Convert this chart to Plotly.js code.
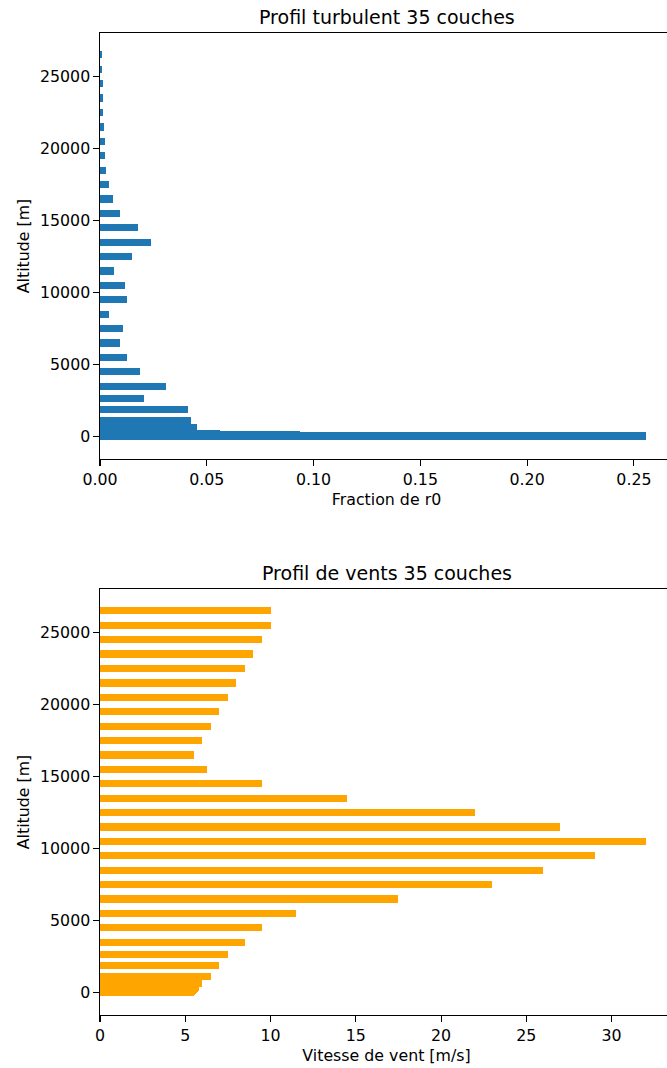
<!DOCTYPE html>
<html>
<head>
<meta charset="utf-8">
<script src="https://cdn.plot.ly/plotly-3.0.1.min.js"></script>
<style>
  html, body { margin: 0; padding: 0; overflow: hidden; background: #ffffff; }
  #chart { width: 700px; height: 1068px; }
</style>
</head>
<body>
<div id="chart"></div>
<script>
// Layer altitudes [m]
const altitudes = [30, 90, 150, 200, 245, 300, 390, 600, 1130, 1880, 2630, 3500, 4500, 5500,
  6500, 7500, 8500, 9500, 10500, 11500, 12500, 13500, 14500, 15500, 16500, 17500, 18500,
  19500, 20500, 21500, 22500, 23500, 24500, 25500, 26500];

// Fraction de r0 per layer
const fractions = [0.2555, 0.1194, 0.0937, 0.0562, 0.0454, 0.0454, 0.0454, 0.0454, 0.0425,
  0.0411, 0.0207, 0.0310, 0.0187, 0.0126, 0.0094, 0.0108, 0.0042, 0.0126, 0.0117, 0.0066,
  0.0150, 0.0239, 0.0176, 0.0092, 0.0059, 0.0041, 0.0027, 0.0022, 0.0022, 0.0017, 0.0012,
  0.0012, 0.0012, 0.0008, 0.0008];

// Vitesse de vent [m/s] per layer
const winds = [5.5, 5.55, 5.6, 5.65, 5.7, 5.75, 5.8, 6, 6.5, 7, 7.5, 8.5, 9.5, 11.5, 17.5,
  23, 26, 29, 32, 27, 22, 14.5, 9.5, 6.25, 5.5, 6, 6.5, 7, 7.5, 8, 8.5, 9, 9.5, 10, 10];

// Tick values / labels
const fracTicks = [0, 0.05, 0.10, 0.15, 0.20, 0.25];
const windTicks = [0, 5, 10, 15, 20, 25, 30];
const altTicks = [0, 5000, 10000, 15000, 20000, 25000];

const titles = {
  top: 'Profil turbulent 35 couches',
  bottom: 'Profil de vents 35 couches',
  xTop: 'Fraction de r0',
  xBottom: 'Vitesse de vent [m/s]',
  y: 'Altitude [m]'
};

const FONT = 'DejaVu Sans, Liberation Sans, sans-serif';
const tickFont = { family: FONT, size: 15.8, color: '#000000' };
const barHeight = 500;

const traces = [
  {
    type: 'bar', orientation: 'h', x: fractions, y: altitudes, width: barHeight,
    marker: { color: '#1f77b4', line: { width: 0 } }, xaxis: 'x', yaxis: 'y',
    hoverinfo: 'x+y'
  },
  {
    type: 'bar', orientation: 'h', x: winds, y: altitudes, width: barHeight,
    marker: { color: '#FFA500', line: { width: 0 } }, xaxis: 'x2', yaxis: 'y2',
    hoverinfo: 'x+y'
  }
];

const H = 1068, MT = 33, MB = 53;
const plotH = H - MT - MB;
const py = v => (H - MB - v) / plotH;

function axisBase() {
  return {
    showgrid: false, zeroline: false, showline: true, linecolor: '#000000', linewidth: 1.1,
    mirror: true, ticks: 'outside', ticklen: 5.5, tickwidth: 1.1, tickcolor: '#000000',
    tickfont: tickFont, fixedrange: true
  };
}

const layout = {
  width: 700, height: H,
  margin: { l: 100, r: 27, t: MT, b: MB },
  paper_bgcolor: '#ffffff', plot_bgcolor: '#ffffff',
  showlegend: false, bargap: 0,
  xaxis: Object.assign(axisBase(), {
    anchor: 'y', domain: [0, 1], range: [0, 0.2683],
    tickvals: fracTicks, tickformat: '.2f',
    title: { text: titles.xTop, font: tickFont, standoff: 6 }
  }),
  yaxis: Object.assign(axisBase(), {
    anchor: 'x', domain: [0.5662, 1], range: [-1560, 28020],
    tickvals: altTicks, tickformat: 'd',
    title: { text: titles.y, font: tickFont, standoff: 6 }
  }),
  xaxis2: Object.assign(axisBase(), {
    anchor: 'y2', domain: [0, 1], range: [0, 33.6],
    tickvals: windTicks, tickformat: 'd',
    title: { text: titles.xBottom, font: tickFont, standoff: 6 }
  }),
  yaxis2: Object.assign(axisBase(), {
    anchor: 'x2', domain: [0, 0.4338], range: [-1560, 28020],
    tickvals: altTicks, tickformat: 'd',
    title: { text: titles.y, font: tickFont, standoff: 6 }
  }),
  annotations: [
    { text: titles.top, xref: 'paper', yref: 'paper', x: 0.5, y: py(17),
      xanchor: 'center', yanchor: 'middle', showarrow: false,
      font: { family: FONT, size: 19, color: '#000000' } },
    { text: titles.bottom, xref: 'paper', yref: 'paper', x: 0.5, y: py(573),
      xanchor: 'center', yanchor: 'middle', showarrow: false,
      font: { family: FONT, size: 19, color: '#000000' } }
  ]
};

Plotly.newPlot('chart', traces, layout, { displayModeBar: false, staticPlot: true });
</script>
</body>
</html>
